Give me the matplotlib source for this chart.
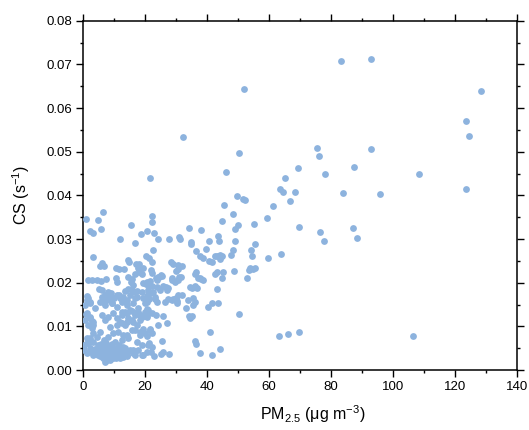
import matplotlib
matplotlib.use("Agg")
import matplotlib.pyplot as plt
from matplotlib.ticker import MultipleLocator

plt.rcParams['font.family'] = ['Liberation Sans', 'DejaVu Sans']
plt.rcParams['mathtext.fontset'] = 'custom'
plt.rcParams['mathtext.rm'] = 'Liberation Sans'
plt.rcParams['mathtext.it'] = 'Liberation Sans:italic'
plt.rcParams['mathtext.bf'] = 'Liberation Sans:bold'

# sparse / high points
pm_high = [52.0, 32.4, 50.2, 21.7, 46.0, 49.6, 51.5, 52.4, 45.5, 48.3, 6.5, 22.3,
           83.1, 92.8, 128.3, 123.5, 124.5, 75.6, 76.1, 92.8, 87.4, 69.3, 78.2, 108.3, 65.2,
           123.5, 63.5, 64.5, 68.3, 83.8, 95.7, 66.9, 61.4,
           59.2, 69.7, 76.6, 77.7, 87.2, 88.3, 59.8, 64.0, 63.1, 66.1, 69.7, 106.4,
           55.3, 44.7, 50.0, 49.0, 34.3, 38.1, 43.5,
           22.2, 1.0, 4.8, 2.4, 3.3, 5.7, 15.6, 18.7, 20.6, 23.0, 12.0, 24.1, 27.7, 30.9, 31.4,
           16.8, 43.8, 40.7, 34.8, 34.8, 49.1, 55.4]
cs_high = [0.0643, 0.0533, 0.0496, 0.0440, 0.0454, 0.0398, 0.0392, 0.0389, 0.0378, 0.0358, 0.0363, 0.0353,
           0.0707, 0.0712, 0.0640, 0.0571, 0.0537, 0.0508, 0.0490, 0.0506, 0.0466, 0.0462, 0.0450, 0.0450, 0.0440,
           0.0415, 0.0415, 0.0407, 0.0407, 0.0405, 0.0402, 0.0386, 0.0375,
           0.0348, 0.0328, 0.0315, 0.0295, 0.0325, 0.0303, 0.0257, 0.0266, 0.0078, 0.0082, 0.0087, 0.0078,
           0.0335, 0.0341, 0.0331, 0.0323, 0.0326, 0.0321, 0.0307,
           0.0340, 0.0346, 0.0344, 0.0318, 0.0313, 0.0324, 0.0331, 0.0311, 0.0318, 0.0314, 0.0301, 0.0301, 0.0300, 0.0304, 0.0299,
           0.0292, 0.0295, 0.0295, 0.0294, 0.0288, 0.0295, 0.0288]

# middle band 0.02-0.03
pm_mid = [22.7, 3.3, 14.5, 20.3, 21.3, 22.3, 28.5, 29.0, 36.5, 37.7, 38.8, 39.7, 40.6, 41.5, 42.5, 43.3, 44.2, 44.7,
          47.8, 48.5, 54.1, 54.6, 44.2,
          6.1, 6.7, 5.5, 10.7, 11.5, 13.1, 17.1, 18.2, 17.7, 19.2, 14.9, 30.6, 31.8, 29.9, 30.5, 36.5, 42.7, 43.1,
          48.8, 54.0, 54.8, 55.6, 53.0, 44.7, 45.2, 53.6,
          21.8, 22.2, 31.0, 36.1, 37.7, 38.8, 24.3, 25.2, 23.8, 28.6, 29.7, 30.7,
          1.5, 2.8, 4.4, 5.7, 7.4, 10.5, 11.1, 14.5, 15.4, 16.6, 18.2, 18.9, 15.7, 16.2, 19.5, 20.5,
          20.2, 20.9, 21.6, 22.2, 23.5, 24.4, 25.6, 24.8, 25.9, 26.8, 28.7, 31.5, 34.4, 35.1, 36.1, 37.2, 38.2, 43.1]
cs_mid = [0.0275, 0.0258, 0.0252, 0.0260, 0.0256, 0.0248, 0.0248, 0.0242, 0.0273, 0.0260, 0.0256, 0.0277, 0.0250, 0.0248, 0.0260, 0.0260, 0.0263, 0.0262,
          0.0263, 0.0275, 0.0274, 0.0261, 0.0254,
          0.0244, 0.0239, 0.0239, 0.0234, 0.0231, 0.0231, 0.0242, 0.0242, 0.0233, 0.0233, 0.0248, 0.0240, 0.0238, 0.0227, 0.0231, 0.0224, 0.0221, 0.0225,
          0.0227, 0.0233, 0.0231, 0.0234, 0.0211, 0.0211, 0.0224, 0.0229,
          0.0229, 0.0223, 0.0214, 0.0221, 0.0210, 0.0205, 0.0214, 0.0218, 0.0206, 0.0210, 0.0202, 0.0206,
          0.0206, 0.0205, 0.0206, 0.0204, 0.0208, 0.0210, 0.0202, 0.0213, 0.0202, 0.0220, 0.0225, 0.0219, 0.0208, 0.0195, 0.0199, 0.0202,
          0.0198, 0.0195, 0.0204, 0.0192, 0.0210, 0.0213, 0.0215, 0.0183, 0.0192, 0.0191, 0.0205, 0.0214, 0.0190, 0.0187, 0.0192, 0.0210, 0.0208, 0.0185]

# lower band 0.01-0.02 and scattered low points
pm_low = [1.3, 1.7, 5.2, 6.0, 7.0, 8.1, 9.1, 10.1, 10.9, 11.5, 13.6, 14.6, 16.8, 17.5, 17.3, 20.5, 21.2, 22.7, 23.1,
          27.3, 28.9, 29.9, 30.4, 31.9, 33.3, 35.4, 36.0, 34.3, 34.6, 35.2, 40.3, 43.4, 50.2,
          26.5, 30.2, 20.6, 22.4, 23.4, 25.9, 24.3, 27.2,
          21.1, 21.6, 23.8, 27.0, 27.5, 28.6, 30.7, 36.7, 23.2, 23.8, 34.0, 35.6, 41.5,
          1.2, 2.3, 6.0, 7.6, 8.7, 6.5, 9.3, 11.9, 13.0, 14.1, 15.7, 15.2, 16.8, 18.9, 19.5, 21.1, 20.5,
          40.8, 36.1, 36.5, 37.7, 41.5, 44.2, 25.5, 25.9, 25.3, 27.7, 22.8, 20.7, 21.3, 22.2, 21.8,
          1.1, 2.2, 3.0, 3.3, 2.8, 1.4, 2.3, 0.3, 0.2]
cs_low = [0.0169, 0.0164, 0.0186, 0.0183, 0.0172, 0.0179, 0.0176, 0.0166, 0.0172, 0.0172, 0.0181, 0.0186, 0.0179, 0.0181, 0.0168, 0.0170, 0.0163, 0.0178, 0.0162,
          0.0163, 0.0163, 0.0166, 0.0158, 0.0172, 0.0143, 0.0150, 0.0155, 0.0124, 0.0119, 0.0124, 0.0145, 0.0153, 0.0128,
          0.0156, 0.0154, 0.0140, 0.0131, 0.0126, 0.0124, 0.0103, 0.0107,
          0.0183, 0.0176, 0.0191, 0.0183, 0.0187, 0.0160, 0.0172, 0.0187, 0.0168, 0.0156, 0.0160, 0.0164, 0.0153,
          0.0160, 0.0156, 0.0168, 0.0160, 0.0164, 0.0156, 0.0153, 0.0164, 0.0168, 0.0160, 0.0183, 0.0172, 0.0164, 0.0179, 0.0164, 0.0172, 0.0156,
          0.0087, 0.0066, 0.0060, 0.0039, 0.0034, 0.0048, 0.0067, 0.0042, 0.0037, 0.0036, 0.0031, 0.0078, 0.0063, 0.0053, 0.0042,
          0.0128, 0.0121, 0.0113, 0.0104, 0.0097, 0.0073, 0.0065, 0.0058, 0.0045]

# dense cluster at low PM2.5
pm_dense = [0.6, 2.3, 3.9, 5.5, 7.1, 9.2, 10.9, 12.5, 14.1, 16.2, 17.8, 20.0, 21.1,
            1.2, 2.3, 3.3, 1.7, 0.6,
            6.0, 7.1, 8.2, 9.8, 10.9, 12.5, 13.5, 15.2, 16.8, 18.4, 20.5,
            8.7, 10.9, 12.5, 14.1, 15.7,
            16.8, 18.4, 20.0, 21.6,
            3.3, 4.4, 2.3, 5.5,
            1.2, 3.3, 4.9, 6.6, 8.2, 9.8, 11.4, 13.0, 14.6, 10.3,
            0.1, 2.3, 4.4, 6.6, 8.7, 10.9, 13.0, 15.2, 16.2, 17.8, 18.9,
            1.2, 3.3, 5.5, 7.6, 9.8, 11.9, 14.1,
            7.1, 8.7,
            4.0, 5.0, 6.0, 7.0, 8.0, 9.0, 10.0, 11.0, 12.0, 6.5, 8.5, 9.5, 7.5, 5.8, 11.5, 12.5, 4.8, 3.8,
            2.8, 13.5, 9.3, 10.5, 12.8, 7.9, 6.2,
            12.5, 14.1, 15.7, 16.8, 17.8, 18.9, 20.0, 20.5, 14.6, 16.2, 17.3, 18.4, 19.5, 13.5, 11.9, 15.7,
            21.6, 22.2, 18.4, 14.1, 12.5, 17.3, 18.9, 21.1, 20.5, 19.5, 16.8, 16.2, 13.5, 14.1, 11.9, 10.3]
cs_dense = [0.0149, 0.0153, 0.0141, 0.0156, 0.0149, 0.0153, 0.0145, 0.0156, 0.0149, 0.0153, 0.0141, 0.0153, 0.0137,
            0.0130, 0.0118, 0.0111, 0.0103, 0.0115,
            0.0126, 0.0115, 0.0122, 0.0130, 0.0118, 0.0126, 0.0134, 0.0137, 0.0130, 0.0126, 0.0122,
            0.0099, 0.0103, 0.0107, 0.0111, 0.0115,
            0.0092, 0.0080, 0.0084, 0.0092,
            0.0084, 0.0076, 0.0073, 0.0088,
            0.0061, 0.0065, 0.0057, 0.0069, 0.0076, 0.0084, 0.0088, 0.0080, 0.0073, 0.0065,
            0.0053, 0.0050, 0.0046, 0.0050, 0.0042, 0.0050, 0.0053, 0.0046, 0.0038, 0.0046, 0.0034,
            0.0038, 0.0034, 0.0031, 0.0023, 0.0027, 0.0034, 0.0031,
            0.0019, 0.0023,
            0.0040, 0.0045, 0.0038, 0.0042, 0.0035, 0.0030, 0.0038, 0.0044, 0.0040, 0.0028, 0.0055, 0.0060, 0.0062, 0.0060, 0.0058, 0.0048, 0.0035, 0.0048,
            0.0042, 0.0042, 0.0048, 0.0028, 0.0030, 0.0050, 0.0045,
            0.0134, 0.0130, 0.0135, 0.0126, 0.0134, 0.0122, 0.0134, 0.0126, 0.0118, 0.0111, 0.0103, 0.0115, 0.0095, 0.0103, 0.0111, 0.0092,
            0.0095, 0.0084, 0.0088, 0.0080, 0.0069, 0.0065, 0.0057, 0.0057, 0.0042, 0.0034, 0.0034, 0.0046, 0.0050, 0.0034, 0.0027, 0.0034]

pm25 = pm_high + pm_mid + pm_low + pm_dense
cs = cs_high + cs_mid + cs_low + cs_dense

fig = plt.figure(figsize=(5.29, 4.30), dpi=100)
ax = fig.add_axes([0.157, 0.1395, 0.8203, 0.8124])

ax.scatter(pm25, cs, s=24, color='#8DB3DE', linewidths=0, zorder=3)

ax.set_xlim(0, 140)
ax.set_ylim(0, 0.08)
ax.xaxis.set_major_locator(MultipleLocator(20))
ax.xaxis.set_minor_locator(MultipleLocator(10))
ax.yaxis.set_major_locator(MultipleLocator(0.01))
ax.yaxis.set_minor_locator(MultipleLocator(0.005))
ax.yaxis.set_major_formatter(plt.FuncFormatter(lambda v, p: f"{v:.2f}"))

for sp in ax.spines.values():
    sp.set_linewidth(1.1)
ax.tick_params(which='both', direction='out', top=True, right=True,
               labeltop=False, labelright=False, width=1.0, labelsize=9.5)
ax.tick_params(which='major', length=5, pad=3)
ax.tick_params(which='minor', length=2.5)

ax.set_xlabel('PM$_{2.5}$ (μg m$^{-3}$)', fontsize=11.5)
ax.set_ylabel('CS (s$^{-1}$)', fontsize=11.5)
ax.xaxis.set_label_coords(0.53, -0.095)
ax.yaxis.set_label_coords(-0.118, 0.5)

fig.savefig('out.png', dpi=100)
